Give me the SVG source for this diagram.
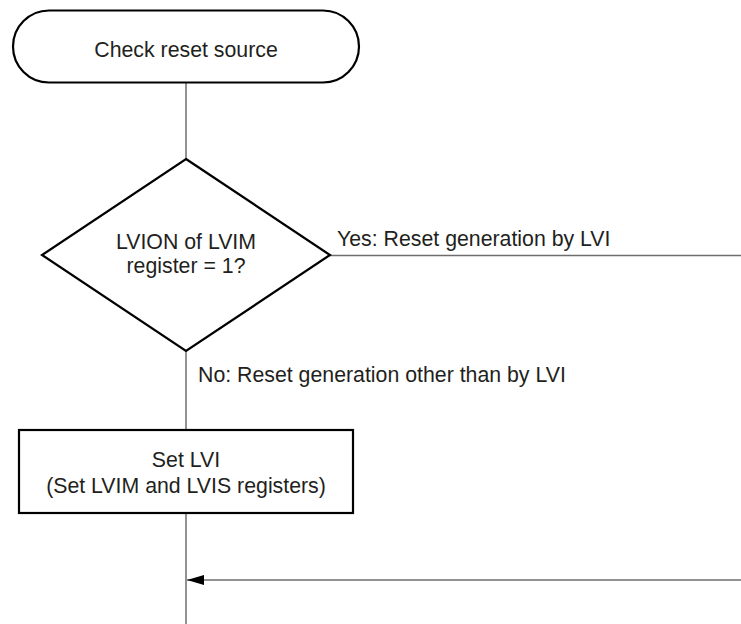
<svg xmlns="http://www.w3.org/2000/svg" width="741" height="624" viewBox="0 0 741 624">
<style>
.shape{fill:#fff;stroke:#000;stroke-width:2.2}
.conn{fill:none;stroke:#6e6e6e;stroke-width:1.5}
text{font-family:"Liberation Sans",Arial,sans-serif;font-size:21.3px;fill:#231f20}
.c{text-anchor:middle}
</style>
<defs>
<marker id="arr" markerUnits="userSpaceOnUse" markerWidth="18" markerHeight="12" refX="17" refY="5" orient="auto">
<path d="M0,0 L17,5 L0,10 Z" fill="#000"/>
</marker>
</defs>
<rect width="741" height="624" fill="#fff"/>
<g id="connectors">
<line class="conn" x1="186" y1="83" x2="186" y2="159"/>
<line class="conn" x1="186" y1="351" x2="186" y2="430"/>
<line class="conn" x1="186" y1="513" x2="186" y2="624"/>
<line class="conn" x1="330" y1="255.5" x2="741" y2="255.5"/>
<line class="conn" x1="741" y1="580" x2="187" y2="580" marker-end="url(#arr)"/>
<text x="337" y="246">Yes: Reset generation by LVI</text>
<text x="198" y="382">No: Reset generation other than by LVI</text>
</g>
<g id="start">
<rect class="shape" x="13" y="10.5" width="346" height="72" rx="36" ry="36"/>
<text class="c" x="186" y="57">Check reset source</text>
</g>
<g id="decision">
<polygon class="shape" points="186,159 330,255 186,351 42,255"/>
<text class="c" x="186" y="249">LVION of LVIM</text>
<text class="c" x="186" y="273">register = 1?</text>
</g>
<g id="setlvi">
<rect class="shape" x="19" y="430" width="334" height="83"/>
<text class="c" x="186" y="467">Set LVI</text>
<text class="c" x="186" y="493">(Set LVIM and LVIS registers)</text>
</g>
</svg>
